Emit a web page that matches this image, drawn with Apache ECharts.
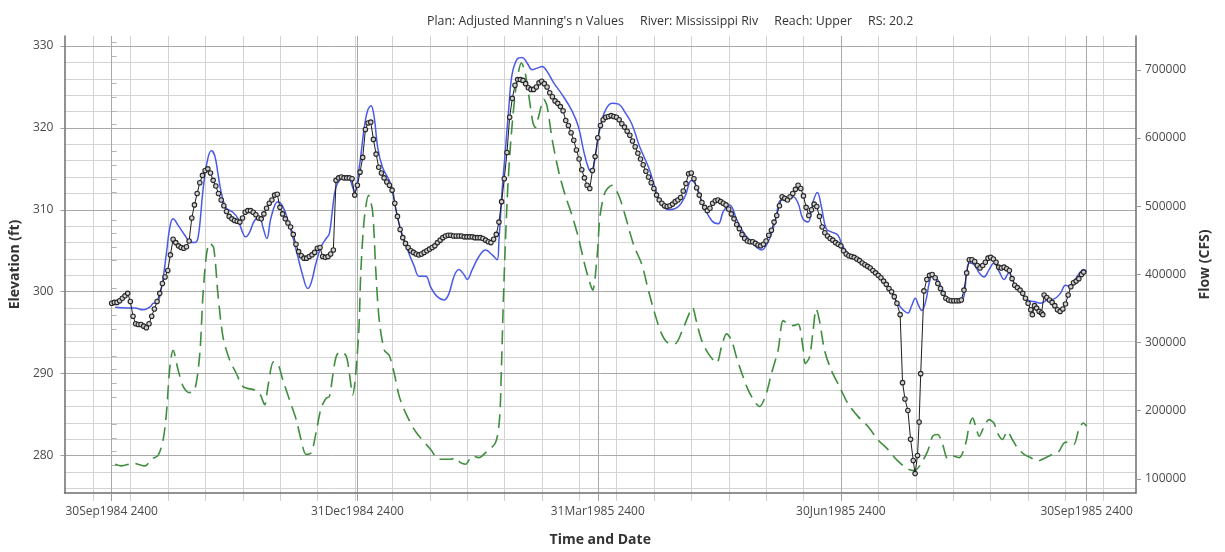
<!DOCTYPE html>
<html>
<head>
<meta charset="utf-8">
<script src="https://cdn.jsdelivr.net/npm/echarts@6/dist/echarts.min.js"></script>
<style>html,body{margin:0;padding:0;background:#fff}#c{width:1225px;height:552px}</style>
</head>
<body>
<div id="c"></div>
<script>
// x values are days after 30Sep1984 2400
const titleText = "Plan: Adjusted Manning's n Values     River: Mississippi Riv     Reach: Upper     RS: 20.2";
const majorDays = [0, 92, 182, 273, 365];
const majorLabels = ['30Sep1984 2400', '31Dec1984 2400', '31Mar1985 2400', '30Jun1985 2400', '30Sep1985 2400'];
const minorDays = [-6.9, 7.1, 21.1, 35.1, 49.1, 63.1, 77.1, 91.1, 105.1, 119.1, 133.1, 147.1, 161.1, 175.1, 189.1, 203.1, 217.1, 231.1, 245.1, 259.1, 273.1, 287.1, 301.1, 315.1, 329.1, 343.1, 357.1, 371.1];
const elevMajor = [280, 290, 300, 310, 320, 330];
const elevMinor = [276, 278, 282, 284, 286, 288, 292, 294, 296, 298, 302, 304, 306, 308, 312, 314, 316, 318, 322, 324, 326, 328];
const flowMajor = [100000, 200000, 300000, 400000, 500000, 600000, 700000];
const flowMinor = [120000, 140000, 160000, 180000, 220000, 240000, 260000, 280000, 320000, 340000, 360000, 380000, 420000, 440000, 460000, 480000, 520000, 540000, 560000, 580000, 620000, 640000, 660000, 680000, 720000, 740000];

// Observed stage, daily from day 0 to day 294
const obsDailyStage = [
298.6,298.7,298.7,298.9,299.2,299.5,299.8,298.8,297.0,296.1,
296.0,296.0,295.8,295.6,296.1,297.0,297.9,298.8,299.8,301.0,
301.8,302.6,304.5,306.4,306.0,305.6,305.4,305.3,305.5,306.2,
309.0,310.6,312.0,313.3,314.2,314.8,315.0,314.5,313.6,312.9,
312.0,311.2,310.5,309.8,309.2,308.9,308.7,308.6,308.5,309.0,
309.7,309.9,309.9,309.7,309.4,309.0,308.9,309.5,310.2,310.8,
311.2,311.8,311.9,310.3,309.5,308.9,308.4,307.9,307.0,305.8,
304.9,304.4,304.1,304.1,304.3,304.5,304.8,305.3,305.4,304.3,
304.2,304.3,304.6,305.1,313.6,313.9,314.0,313.9,313.9,313.9,
313.8,311.8,313.0,314.6,316.4,319.8,320.6,320.7,318.6,316.8,
315.2,314.5,313.9,313.4,313.0,312.4,310.8,309.2,307.6,306.6,
305.9,305.4,305.0,304.8,304.6,304.5,304.6,304.8,305.0,305.2,
305.4,305.6,306.0,306.3,306.6,306.8,306.9,306.9,306.8,306.8,
306.8,306.8,306.7,306.7,306.7,306.7,306.6,306.6,306.6,306.5,
306.3,306.1,306.0,306.4,307.0,308.5,311.0,313.8,317.0,321.3,
323.6,325.2,325.9,325.9,325.8,325.4,324.9,324.7,324.7,325.0,
325.5,325.7,325.4,325.0,324.3,323.8,323.3,323.0,322.6,322.1,
320.9,320.3,319.4,318.5,317.3,316.2,314.9,313.9,313.0,312.6,
314.8,316.5,318.8,320.3,321.0,321.3,321.4,321.5,321.4,321.3,
321.0,320.5,320.1,319.6,319.1,318.4,317.7,316.9,316.2,315.5,
314.7,314.0,313.3,312.6,311.8,311.2,310.8,310.5,310.4,310.5,
310.7,311.0,311.2,311.5,312.3,313.2,314.4,314.5,313.8,312.7,
311.8,310.9,310.3,309.9,310.2,310.8,311.1,311.2,311.0,310.8,
310.6,310.1,309.5,308.9,308.2,307.7,307.0,306.5,306.2,306.1,
306.1,305.9,305.7,305.6,305.8,306.2,306.9,307.5,308.5,309.3,
310.5,311.6,311.4,311.2,311.6,312.0,312.5,313.0,312.6,311.7,
310.3,309.3,310.0,310.7,310.4,309.2,307.9,307.2,306.8,306.5,
306.3,306.0,305.8,305.6,305.0,304.6,304.4,304.3,304.2,304.0,
303.8,303.5,303.3,303.1,302.9,302.6,302.3,302.0,301.7,301.3,
300.9,300.4,300.0,299.4,298.6
];
// Observed stage after day 295 (irregular times)
const obsTailDay = [295.2,296.1,297.0,298.1,299.1,300.1,300.8,301.7,302.3,302.9,304.1,305.2,306.2,307.2,308.3,309.3,310.3,311.3,312.3,313.3,314.3,315.3,316.3,317.3,318.1,319.1,320.1,321.1,322.1,323.1,324.1,325.1,326.1,327.1,328.1,329.1,330.1,331.1,332.1,333.1,334.1,335.1,336.1,337.1,338.1,339.1,340.1,341.1,342.1,343.1,344.1,344.7,345.5,346.3,347.2,348.1,348.6,349.1,350.1,351.1,352.1,353.1,354.1,355.1,356.1,357.1,358.1,359.1,360.1,361.1,362.1,363.1,363.9];
const obsTailStage = [297.2,288.9,286.9,285.5,282.0,279.4,277.8,280.0,284.1,290.0,300.1,301.5,302.0,302.1,301.7,301.0,300.4,299.8,299.2,299.0,298.9,298.9,298.9,298.9,299.0,300.2,302.3,303.9,303.9,303.7,303.2,302.9,303.2,303.6,304.1,304.2,304.0,303.6,303.0,302.9,303.0,302.8,302.6,301.6,300.8,300.5,300.2,299.8,299.2,298.6,297.8,297.2,298.3,298.0,297.6,297.4,297.2,299.6,299.3,299.0,298.7,298.3,297.8,297.6,297.9,298.5,299.6,300.6,301.1,301.3,301.6,302.1,302.4];

// Computed stage
const compDay = [1.3,5.6,8.7,11.8,14.6,15.6,16.8,18.7,20.5,21.8,23.0,24.9,27.4,29.3,31.1,32.4,34.2,35.7,37.3,38.6,39.8,41.1,42.9,45.4,47.3,48.5,50.2,51.7,53.5,55.4,56.6,58.1,59.7,62.2,64.1,66.0,67.8,69.7,71.6,73.4,74.7,76.5,78.4,80.3,81.5,82.8,84.0,85.9,88.4,90.2,90.9,92.7,94.6,95.8,97.1,98.3,99.6,101.4,103.9,105.2,106.4,108.3,110.8,113.3,115.1,117.6,119.4,121.9,124.5,126.3,128.2,130.0,131.9,133.1,135.0,137.5,140.0,142.5,144.3,145.0,146.2,147.4,148.7,149.9,151.8,153.7,155.6,157.4,159.3,161.2,163.0,165.5,168.6,172.3,174.8,176.7,178.6,179.8,181.0,182.9,184.8,187.3,189.8,192.2,194.7,197.8,201.0,203.4,205.9,209.0,212.2,214.6,217.1,219.0,221.5,224.6,227.1,229.0,231.4,233.9,236.4,239.5,243.3,245.8,248.2,250.7,252.6,255.1,257.0,258.8,260.7,262.6,264.2,265.7,267.5,269.4,271.9,273.8,276.9,280.6,285.6,290.6,293.1,295.6,298.1,299.4,300.9,302.0,303.3,304.9,306.1,307.4,309.2,311.1,313.0,315.4,318.5,320.1,321.0,322.9,324.8,326.6,328.5,330.3,332.2,334.1,335.9,337.8,340.3,342.8,345.3,347.8,350.3,352.7,355.2,357.1,359.0,361.5,364.0,365.0];
const compStage = [298.1,298.0,298.0,297.8,298.2,298.6,298.6,300.6,304.7,307.9,308.9,308.1,306.9,306.1,306.0,306.7,312.4,315.8,317.2,316.6,314.4,312.0,310.2,309.7,308.9,307.7,306.7,307.3,308.7,309.1,307.9,306.5,309.1,311.0,310.4,308.7,306.7,304.3,301.9,300.4,301.1,303.5,305.5,306.5,307.1,310.4,312.8,313.8,314.1,312.8,312.1,315.2,320.1,322.1,322.7,321.3,317.6,315.2,313.6,312.4,310.0,307.5,305.1,303.1,301.9,301.9,300.6,299.4,299.0,299.8,301.9,302.7,302.1,301.5,302.7,304.3,305.1,304.5,303.9,306.3,312.4,317.2,322.5,326.5,328.4,328.6,327.9,327.1,327.3,327.5,326.9,325.5,324.1,322.1,320.1,317.2,315.0,314.6,316.4,320.1,322.1,323.0,322.9,321.9,320.5,317.6,315.2,312.8,310.6,310.0,310.4,311.6,313.6,312.8,310.6,308.7,308.3,309.8,310.6,308.9,307.3,306.1,305.1,306.1,308.3,311.2,311.2,311.6,310.8,308.9,308.5,311.0,312.1,310.4,307.7,307.3,306.9,305.5,304.3,303.5,302.5,300.8,299.2,298.0,297.4,298.2,299.2,298.4,297.7,299.0,301.1,302.1,301.5,300.2,299.0,298.8,299.0,302.3,303.5,303.3,302.3,301.8,302.7,303.5,302.5,301.5,302.3,301.1,300.0,299.0,298.8,298.6,299.0,299.1,299.8,300.8,300.6,301.9,302.7,302.4];

// Flow
const flowDay = [1.3,3.7,8.1,12.5,14.9,17.4,19.3,20.5,21.8,23.0,24.9,26.8,29.0,31.1,33.0,34.2,35.5,36.7,38.2,39.8,41.7,44.2,46.7,49.2,53.5,55.4,57.3,58.5,60.6,62.2,64.1,66.6,69.1,70.9,72.8,74.7,76.5,78.4,80.3,81.5,82.8,84.0,85.3,87.7,89.0,90.2,92.4,93.3,94.6,96.2,97.7,98.9,100.2,102.1,103.9,105.8,107.7,110.1,113.3,115.7,119.4,122.6,126.9,128.8,130.6,132.5,135.0,137.5,140.6,143.7,145.2,145.9,146.8,148.1,149.3,150.6,151.8,153.4,154.7,156.2,157.7,158.6,159.9,161.8,163.0,164.9,167.4,169.8,172.3,174.8,177.1,179.2,180.1,181.7,182.9,184.8,187.3,189.8,192.2,195.4,198.5,201.0,203.4,205.9,208.4,210.9,213.4,215.9,217.4,219.0,220.9,223.4,226.5,228.3,230.2,232.1,233.9,236.4,238.9,242.6,245.1,247.0,249.5,251.4,253.2,255.1,257.0,258.8,259.7,261.3,262.6,263.8,265.0,266.9,269.4,272.5,275.6,279.4,283.1,286.8,290.6,294.3,298.2,300.5,302.5,305.5,307.4,309.2,311.1,313.0,314.8,317.3,319.8,321.0,322.3,323.5,324.8,326.4,328.5,330.3,331.6,333.5,335.3,337.2,339.1,341.6,344.1,346.6,349.7,352.2,354.7,356.6,358.5,360.2,362.1,363.8,365.0];
const flowCfs = [121400,118900,122800,118900,128600,134400,157700,196400,264200,288500,259400,235200,226500,230400,283600,370800,428900,445900,438700,370800,307900,274000,254500,235200,230400,225400,208600,235200,271500,269000,244900,215800,186800,157700,135900,138200,167300,203600,218200,220600,252200,278800,286000,281200,254500,223100,307900,404800,482300,516100,492000,404800,332100,288500,281200,254500,220600,196400,172200,160000,143200,128600,128600,131000,123700,121400,133400,131000,140700,152800,186800,259400,380500,511300,588800,647000,685800,710000,697800,661500,622800,615600,632400,656700,647000,598500,550200,516100,487100,453200,414400,385300,376600,424100,487100,521100,530700,516100,487100,443500,414400,375700,341700,312700,299100,298100,315100,339400,351500,329700,303100,283600,270100,293300,312700,303100,278800,249700,225400,206100,225400,254500,288500,332100,327200,324800,327200,293300,269000,278800,317600,349000,332100,288500,259400,235200,210900,191600,177000,157700,143200,126200,114100,112000,118900,140700,162500,165000,150400,129500,133400,131000,152800,177000,189100,177000,162500,174600,186800,181800,167300,157700,169800,157700,145500,135900,131000,126200,131000,135900,140700,152800,153800,150400,172200,181800,177000];

const obsData = obsDailyStage.map((v, i) => [i, v]).concat(obsTailDay.map((d, i) => [d, obsTailStage[i]]));
const compData = compDay.map((d, i) => [d, compStage[i]]);
const flowData = flowDay.map((d, i) => [d, flowCfs[i]]);

const FONT = "'Open Sans', 'Noto Sans', sans-serif";
const X_MIN = -17.66, X_MAX = 383.5;
const E_MIN = 275.43, E_MAX = 331.22;
const Q_MIN = 79155, Q_MAX = 749700;
const labelStyle = { fontSize: 12, color: '#4a4a4a', fontFamily: FONT };
const nameStyle = { fontSize: 14, fontWeight: 'bold', color: '#333', fontFamily: FONT };

const chart = echarts.init(document.getElementById('c'), null, { renderer: 'canvas' });
chart.setOption({
  animation: false,
  backgroundColor: '#fff',
  title: {
    text: titleText, left: 422, top: 10,
    textStyle: { fontSize: 12.4, fontWeight: 'normal', color: '#333', fontFamily: FONT }
  },
  grid: { left: 61, right: 89, top: 36, bottom: 56 },
  xAxis: [
    {
      type: 'value', min: X_MIN, max: X_MAX, position: 'bottom', z: 3,
      name: 'Time and Date', nameLocation: 'middle', nameGap: 40, nameTextStyle: nameStyle,
      axisLine: { show: true, onZero: false, lineStyle: { color: '#6e6e6e', width: 1.5 } },
      axisTick: { show: true, customValues: majorDays, length: 8, lineStyle: { color: '#9c9c9c' } },
      axisLabel: Object.assign({ customValues: majorDays, margin: 13,
        formatter: v => majorLabels[majorDays.indexOf(v)] }, labelStyle),
      splitLine: { show: true, lineStyle: { color: '#a9a9a9', width: 1 } }
    },
    {
      type: 'value', min: X_MIN, max: X_MAX, position: 'bottom', z: 2,
      axisLine: { show: false },
      axisTick: { show: true, customValues: minorDays, length: 8, lineStyle: { color: '#d0d0d0' } },
      axisLabel: { show: false },
      splitLine: { show: true, lineStyle: { color: '#d3d3d3', width: 1 } }
    }
  ],
  yAxis: [
    {
      type: 'value', position: 'left', min: E_MIN, max: E_MAX, z: 3,
      name: 'Elevation (ft)', nameLocation: 'middle', nameGap: 34, nameRotate: 90, nameTextStyle: nameStyle,
      axisLine: { show: true, onZero: false, lineStyle: { color: '#6e6e6e', width: 1.5 } },
      axisTick: { show: true, customValues: elevMajor, length: 4, lineStyle: { color: '#9c9c9c' } },
      axisLabel: Object.assign({ customValues: elevMajor, margin: 11 }, labelStyle),
      splitLine: { show: true, lineStyle: { color: '#a9a9a9', width: 1 } }
    },
    {
      type: 'value', position: 'left', min: E_MIN, max: E_MAX, z: 2,
      axisLine: { show: false },
      axisTick: { show: true, customValues: elevMinor, length: 4, lineStyle: { color: '#d0d0d0' } },
      axisLabel: { show: false },
      splitLine: { show: true, lineStyle: { color: '#d3d3d3', width: 1 } }
    },
    {
      type: 'value', position: 'right', min: Q_MIN, max: Q_MAX, z: 3,
      name: 'Flow (CFS)', nameLocation: 'middle', nameGap: 62, nameRotate: 90, nameTextStyle: nameStyle,
      axisLine: { show: true, onZero: false, lineStyle: { color: '#6e6e6e', width: 1.5 } },
      axisTick: { show: true, customValues: flowMajor, length: 5, lineStyle: { color: '#9c9c9c' } },
      axisLabel: Object.assign({ customValues: flowMajor, margin: 9, formatter: v => String(Math.round(v)) }, labelStyle),
      splitLine: { show: false }
    },
    {
      type: 'value', position: 'right', min: Q_MIN, max: Q_MAX, z: 2,
      axisLine: { show: false },
      axisTick: { show: true, customValues: flowMinor, length: 5, lineStyle: { color: '#b5b5b5' } },
      axisLabel: { show: false },
      splitLine: { show: false }
    }
  ],
  series: [
    {
      type: 'line', name: 'Flow', xAxisIndex: 0, yAxisIndex: 2, data: flowData,
      smooth: 0.3, symbol: 'none', z: 3,
      lineStyle: { color: '#3e8e3e', width: 1.6, type: [14, 7] }
    },
    {
      type: 'line', name: 'Stage', xAxisIndex: 0, yAxisIndex: 0, data: compData,
      smooth: 0.4, symbol: 'none', z: 4,
      lineStyle: { color: '#4a5ae8', width: 1.5 }
    },
    {
      type: 'line', name: 'Obs Stage', xAxisIndex: 0, yAxisIndex: 0, data: obsData,
      symbol: 'circle', symbolSize: 4.5, showSymbol: true, z: 5,
      lineStyle: { color: '#1e1e1e', width: 1 },
      itemStyle: { color: '#d0d0d0', borderColor: '#262626', borderWidth: 1.1 }
    }
  ]
});
</script>
</body>
</html>
